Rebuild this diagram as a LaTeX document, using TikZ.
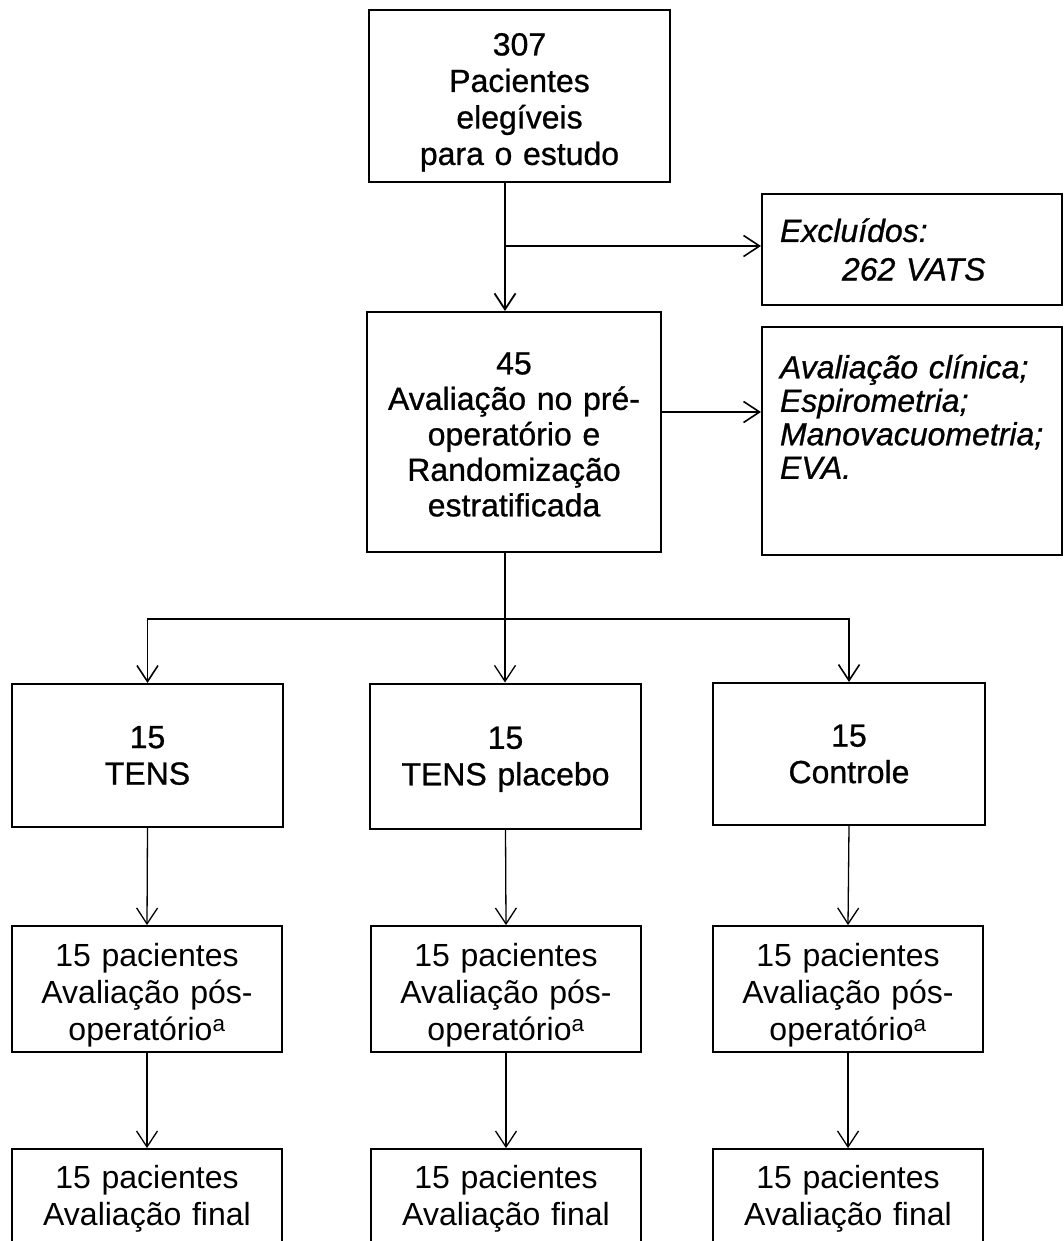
\documentclass[tikz,border=0pt]{standalone}
\usepackage{fontspec}
\setmainfont{Liberation Sans}
\newfontfamily\heavyfont[FakeBold=0.8]{Liberation Sans}
\usetikzlibrary{arrows.meta}

\begin{document}
\begin{tikzpicture}[x=1pt, y=-1pt,
        box/.style={draw, line width=2pt, inner sep=0pt, align=center, font=\heavyfont\fontsize{32}{36.5}\selectfont},
        post/.style={draw, line width=1.8pt, inner sep=0pt, align=center, text width=270pt, minimum height=126pt, font=\fontsize{32}{37}\selectfont},
        note/.style={draw, line width=2pt, inner xsep=18pt, inner ysep=0pt, align=left, text width=264pt, minimum height=#1, font=\heavyfont\fontsize{32}{33.5}\selectfont\itshape},
        arr/.style={-{Straight Barb[length=16pt, width=21pt]}, line width=1.3pt}]
        \clip (0,0) rectangle (1064,1241);
        \useasboundingbox (0,0) rectangle (1064,1241);
        % top part
        \node[box, text width=301pt, minimum height=172pt] (eleg) at (519.5,96) {\rule{0pt}{35pt}307\\Pacientes\\elegíveis\\para o estudo};
        \node[box, text width=294pt, minimum height=240pt, font=\heavyfont\fontsize{32}{35.5}\selectfont] (preop) at (514,432) {\rule{0pt}{27pt}45\\Avaliação no pré-\\operatório e\\Randomização\\estratificada};
        \node[note=111pt] (excl) at (912,249.5) {Excluídos:\\[5pt]\hspace*{62pt}262 VATS};
        \node[note=228pt] (aval) at (912,441) {Avaliação clínica;\\Espirometria;\\Manovacuometria;\\EVA.\\[15pt]\mbox{}};
        \coordinate (trunk) at (505,246);
        \coordinate (split) at ([yshift=20pt]preop.east);
        \draw[arr, line width=1.8pt] (eleg.south -| trunk) -- (preop.north -| trunk);
        \draw[arr, line width=1.6pt] (trunk) -- (trunk -| excl.west);
        \draw[arr, line width=1.6pt] (split) -- (split -| aval.west);
        % groups
        \node[box, text width=271pt, minimum height=143pt] (tens) at (147.5,755.5) {15\\TENS};
        \node[box, text width=271pt, minimum height=145pt] (plac) at (505.5,756) {15\\\raisebox{0pt}[\height][0pt]{TENS placebo}};
        \node[box, text width=272pt, minimum height=142pt] (ctrl) at (849,754) {15\\Controle};
        \coordinate (fork) at (505,619);
        \draw[line width=1.6pt] (preop.south -| fork) -- (fork);
        \draw[arr, line width=1.6pt] (fork) -| (tens.north);
        \draw[arr, line width=1.6pt] (fork) -| (ctrl.north);
        \draw[arr] (fork) -- (plac.north -| fork);
        % follow-up
        \node[post] (posa) at (147,989) {\rule{0pt}{35pt}15 pacientes\\Avaliação pós-\\operatório\textsuperscript{a}};
        \node[post] (posb) at (506,989) {\rule{0pt}{35pt}15 pacientes\\Avaliação pós-\\operatório\textsuperscript{a}};
        \node[post] (posc) at (848,989) {\rule{0pt}{35pt}15 pacientes\\Avaliação pós-\\operatório\textsuperscript{a}};
        \node[post, minimum height=99pt] (fina) at (147,1198.5) {15 pacientes\\Avaliação final};
        \node[post, minimum height=99pt] (finb) at (506,1198.5) {15 pacientes\\Avaliação final};
        \node[post, minimum height=99pt] (finc) at (848,1198.5) {15 pacientes\\Avaliação final};
        \draw[arr] (tens.south) -- (posa.north);
        \draw[arr] (plac.south) -- (posb.north);
        \draw[arr] (ctrl.south) -- (posc.north);
        \draw[arr] (posa.south) -- (fina.north);
        \draw[arr] (posb.south) -- (finb.north);
        \draw[arr] (posc.south) -- (finc.north);
\end{tikzpicture}
\end{document}
